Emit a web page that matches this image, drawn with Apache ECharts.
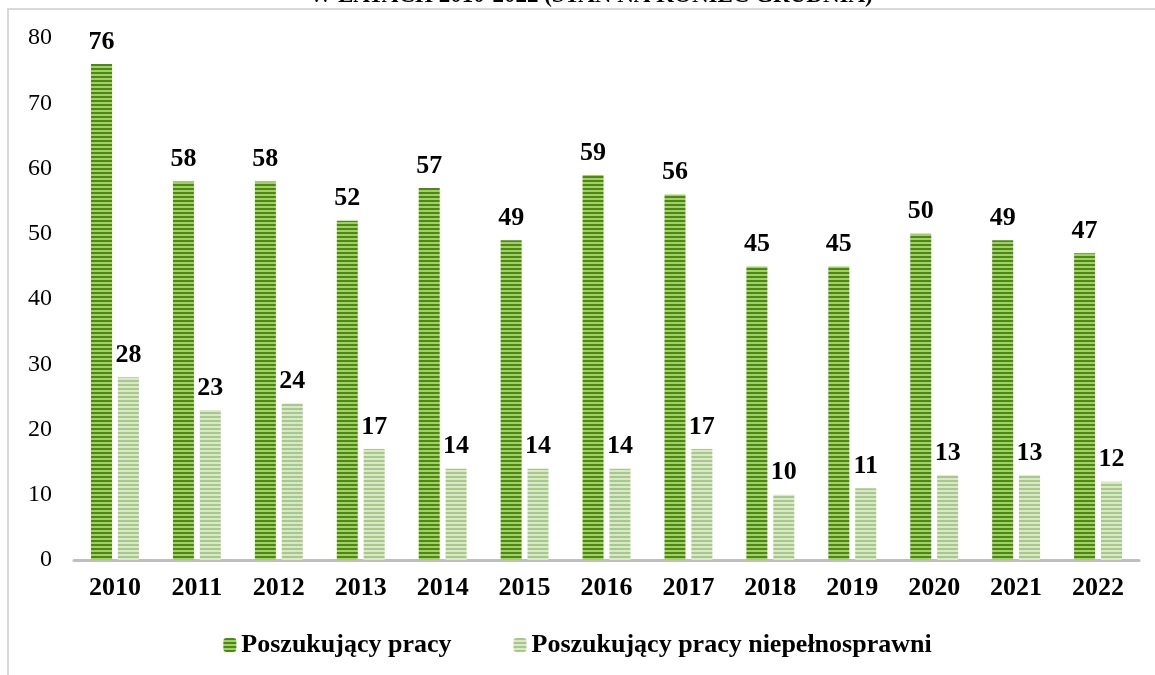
<!DOCTYPE html>
<html>
<head>
<meta charset="utf-8">
<script src="https://cdn.jsdelivr.net/npm/echarts@6/dist/echarts.min.js"></script>
<style>
  html, body { margin: 0; padding: 0; background: #fff; }
  #chart { width: 1155px; height: 675px; }
</style>
</head>
<body>
<div id="chart"></div>
<script>
var years = ['2010', '2011', '2012', '2013', '2014', '2015', '2016', '2017', '2018', '2019', '2020', '2021', '2022'];
var poszukujacy = [76, 58, 58, 52, 57, 49, 59, 56, 45, 45, 50, 49, 47];
var niepelnosprawni = [28, 23, 24, 17, 14, 14, 14, 17, 10, 11, 13, 13, 12];
var yTicks = [0, 10, 20, 30, 40, 50, 60, 70, 80];

var serif = '"Liberation Serif", "Times New Roman", serif';

// striped fill, like the horizontal-line pattern of the original
function stripes(dark, light) {
  var c = document.createElement('canvas');
  c.width = 4; c.height = 4;
  var ctx = c.getContext('2d');
  ctx.fillStyle = light;
  ctx.fillRect(0, 0, 4, 4);
  ctx.fillStyle = dark;
  ctx.fillRect(0, 0, 4, 2);
  return { image: c, repeat: 'repeat' };
}

var labelStyle = {
  show: true, position: 'top', distance: 9,
  fontFamily: serif, fontWeight: 'bold', fontSize: 26, color: '#000'
};

var chart = echarts.init(document.getElementById('chart'));
chart.setOption({
  backgroundColor: '#fff',
  animation: false,
  graphic: [
    {
      type: 'rect',
      shape: { x: 8, y: 9, width: 1200, height: 700 },
      style: { fill: 'none', stroke: '#d9d9d9', lineWidth: 2 }
    },
    {
      type: 'text',
      x: 591,
      y: -15,
      style: {
        text: 'W LATACH 2010-2022 (STAN NA KONIEC GRUDNIA)',
        font: 'bold 23px ' + serif,
        fill: '#000',
        align: 'center'
      }
    }
  ],
  grid: { left: 74, right: 16, top: 38, bottom: 115 },
  legend: {
    bottom: 12,
    left: 'center',
    itemWidth: 13,
    itemHeight: 14,
    itemGap: 62,
    textStyle: { fontFamily: serif, fontWeight: 'bold', fontSize: 26, color: '#000' },
    data: ['Poszukujący pracy', 'Poszukujący pracy niepełnosprawni']
  },
  xAxis: {
    type: 'category',
    data: years,
    axisLine: { lineStyle: { color: '#bfbfbf', width: 3 } },
    axisTick: { show: false },
    axisLabel: { fontFamily: serif, fontWeight: 'bold', fontSize: 26, color: '#000', margin: 15 }
  },
  yAxis: {
    type: 'value',
    min: yTicks[0],
    max: yTicks[yTicks.length - 1],
    interval: 10,
    splitLine: { show: false },
    axisLine: { show: false },
    axisLabel: { fontFamily: serif, fontSize: 24, color: '#000', margin: 22 }
  },
  series: [
    {
      name: 'Poszukujący pracy',
      type: 'bar',
      barWidth: 21,
      barGap: '28%',
      data: poszukujacy,
      itemStyle: { color: stripes('#4b8a0e', '#a2cf6c') },
      label: labelStyle
    },
    {
      name: 'Poszukujący pracy niepełnosprawni',
      type: 'bar',
      barWidth: 21,
      data: niepelnosprawni,
      itemStyle: { color: stripes('#a6c888', '#d8e8c8') },
      label: labelStyle
    }
  ]
});
</script>
</body>
</html>
